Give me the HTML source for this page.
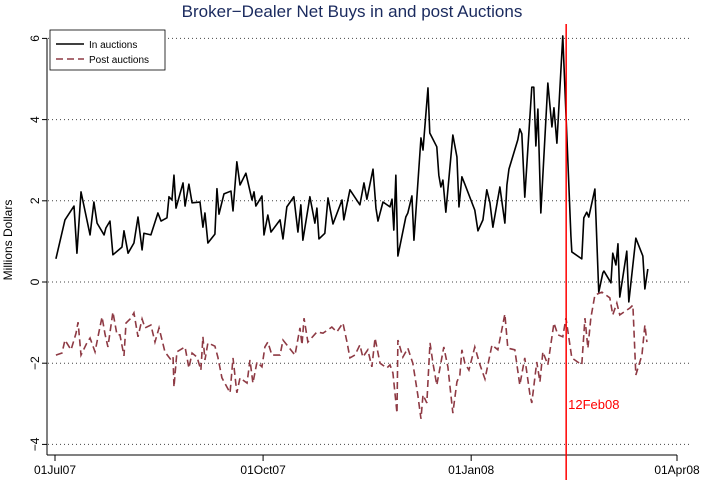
<!DOCTYPE html>
<html><head><meta charset="utf-8"><style>
body{margin:0;background:#fff;width:704px;height:480px;overflow:hidden}
text{font-family:"Liberation Sans",sans-serif}
</style></head><body>
<svg id="chart" width="704" height="480" xmlns="http://www.w3.org/2000/svg">
<rect width="704" height="480" fill="#fff"/>
<text x="352" y="17" text-anchor="middle" font-size="17" fill="#1a2a5e">Broker−Dealer Net Buys in and post Auctions</text>
<g id="grid"></g>
<g id="axes"></g>
<g id="series"></g>
<g>
<rect x="50" y="30" width="115" height="40" fill="#fff" stroke="#000" stroke-width="0.8"/>
<line x1="56" y1="44" x2="84" y2="44" stroke="#000" stroke-width="1.5"/>
<text x="89" y="48" font-size="10">In auctions</text>
<line x1="56" y1="59" x2="84" y2="59" stroke="#8e3a44" stroke-width="1.5" stroke-dasharray="7,4"/>
<text x="89" y="63" font-size="10">Post auctions</text>
</g>
</svg>
<script>
const inDays=[0.4,4.4,8.4,9.7,11.5,15.5,17.2,18.6,21.7,22.5,24.3,25.6,29.6,30.5,32.3,34.9,36.7,38.5,39.3,42.4,45.5,46.9,49.5,50.4,51.7,52.6,53.5,56.6,57.5,59.2,60.6,64.1,65.4,66.3,67.6,70.7,71.6,72.5,74.7,77.8,78.7,80.4,81.8,84.4,87.1,88,88.8,91.5,92.4,94.1,95.5,99.5,100.8,102.5,105.6,107.4,108.7,109.6,112.7,114.9,115.8,116.7,119.3,120.7,122.9,126.9,127.7,130.4,134.8,136.6,137.9,140.6,141.9,142.8,145,148.1,149,149.8,150.7,151.6,155.1,156,157.8,158.7,161.8,162.7,164.9,165.7,168.8,169.7,170.6,171.5,172.8,175.9,177.7,178.6,179.9,181.2,185.6,187,189.2,190.9,192.3,193.6,196.7,198.9,199.8,200.7,204.6,205.5,206.4,207.7,210.8,211.7,212.6,213.5,214.8,217.9,219.7,220.6,221.9,224.5,228.1,228.5,232.9,233.8,235.1,236,238.7,240.4,242.2,242.7,245.8,246.6,248,248.9,249.7,252.8,253.7,256.8,259.9,260.8,262.1];
const inVals=[0.57,1.53,1.87,0.71,2.22,1.16,1.97,1.45,1.16,1.33,1.5,0.67,0.86,1.26,0.71,0.96,1.6,0.79,1.2,1.16,1.7,1.5,1.58,2.1,2.02,2.63,1.82,2.44,1.87,2.41,1.95,1.97,1.35,1.7,0.96,1.18,2.3,1.67,2.17,2.24,1.75,2.96,2.39,2.68,2.02,2.22,1.87,2.12,1.16,1.65,1.23,1.53,1.06,1.85,2.1,1.23,1.9,1.03,2.1,1.45,1.82,1.06,1.2,2.07,1.43,2.02,1.53,2.27,1.9,2.44,2.04,2.78,1.82,1.5,1.97,1.85,2.04,1.28,2.63,0.64,1.6,1.7,2.12,1.03,3.55,3.25,4.78,3.67,3.33,2.63,2.34,2.51,1.72,3.62,3.08,1.85,2.59,2.41,1.77,1.26,1.53,2.27,1.95,1.35,2.34,1.45,2.39,2.78,3.5,3.77,3.65,2.09,4.8,4.8,3.35,4.26,1.7,4.9,3.82,4.29,3.42,6.06,1.13,0.74,0.57,1.58,1.72,1.6,2.29,-0.25,0.22,0.27,-0.02,0.71,0.42,0.94,-0.37,0.76,-0.49,1.08,0.64,-0.17,0.32];
const postDays=[0.4,3.1,4.4,7.1,9.3,10.2,11.5,14.1,15.5,17.7,19,20.8,22.1,23.4,25.6,27.4,28.7,30.5,31.4,33.6,34.9,36.7,38.5,39.8,42.4,44.2,46,48.6,51.3,52.2,52.6,53.9,57.5,59.2,60.6,62.8,64.5,65.4,66.3,67.6,70.7,72,73.8,77.4,78.7,80.4,81.8,84.9,86.2,87.5,89.3,91.5,92.8,94.1,95.9,99.5,100.8,106.1,108.3,109.2,110.1,111.8,115.8,118.5,122.4,124.6,127.3,129.1,130.4,132.6,134.8,136.1,138.3,140.1,141.5,143.7,146.7,148.1,149.4,151.2,151.6,153.8,156,158.2,160.4,161.8,162.7,164.4,165.8,167.1,168.8,171.9,173.7,175.9,177.7,179,179.9,181.2,183,185.6,187.9,190.1,193.2,195.8,198.9,200.2,203.3,205.5,207.7,210,210.8,213,214.4,215.7,217.9,220.6,222.3,224.5,225.9,228.5,232.9,234.3,235.6,236.9,238.7,241.8,245.3,246.6,248.4,249.7,254.2,255.5,256.8,259.5,260.8,261.7];
const postVals=[-1.8,-1.75,-1.43,-1.67,-1.26,-0.99,-1.8,-1.5,-1.38,-1.72,-1.35,-0.86,-1.28,-1.6,-0.74,-1.3,-1.3,-1.82,-1.01,-0.89,-0.76,-1.35,-0.91,-1.13,-1.06,-1.48,-1.13,-1.72,-1.92,-1.85,-2.59,-1.72,-1.6,-2.12,-1.75,-1.85,-2.17,-1.35,-1.92,-1.5,-1.58,-1.85,-2.36,-2.73,-1.87,-2.73,-2.36,-2.49,-1.92,-2.49,-1.97,-2.09,-1.6,-1.48,-1.8,-1.8,-1.43,-1.8,-1.13,-1.55,-0.89,-1.48,-1.23,-1.26,-1.11,-1.23,-1.01,-1.48,-1.87,-1.8,-1.55,-1.85,-1.67,-2.09,-1.38,-2.0,-2.12,-2.04,-2.24,-3.23,-1.43,-1.85,-1.63,-2.0,-2.78,-3.37,-2.78,-2.98,-1.5,-2.0,-2.54,-1.6,-2.09,-3.23,-2.46,-2.29,-1.67,-2.0,-2.17,-1.6,-2.04,-2.39,-1.55,-1.67,-0.79,-1.63,-1.67,-2.54,-1.87,-2.78,-2.98,-1.97,-2.46,-1.72,-2.04,-1.01,-1.3,-1.35,-0.89,-1.87,-2.04,-0.89,-1.63,-0.89,-0.32,-0.25,-0.39,-0.81,-0.52,-0.81,-0.64,-0.57,-2.29,-1.8,-1.06,-1.48];
const yTicks=[-4,-2,0,2,4,6];
const yTickLabels=["−4","−2","0","2","4","6"];
const xTickDays=[0,92,184,275];
const xTickLabels=["01Jul07","01Oct07","01Jan08","01Apr08"];
const eventDay=226;
const eventLabel="12Feb08";

const NS="http://www.w3.org/2000/svg";
const X=d=>55+d*(677-55)/275;
const Y=v=>282-v*40.6;
function mk(tag,attrs,parent){const e=document.createElementNS(NS,tag);for(const k in attrs)e.setAttribute(k,attrs[k]);parent.appendChild(e);return e;}
const grid=document.getElementById('grid'),axes=document.getElementById('axes'),series=document.getElementById('series');
yTicks.forEach((t,i)=>{
  const g=mk('line',{x1:48,x2:690,y1:Y(t),y2:Y(t),stroke:'#444','stroke-width':1,'stroke-dasharray':'1,3'},grid);
  
  
  mk('line',{x1:42,x2:47,y1:Y(t),y2:Y(t),stroke:'#000'},axes);
  const tx=mk('text',{x:0,y:0,'font-size':12,'text-anchor':'middle',transform:`translate(39,${Y(t)}) rotate(-90)`},axes);
  tx.textContent=yTickLabels[i];
  
  
});
mk('line',{x1:47,x2:47,y1:Y(6),y2:455,stroke:'#000'},axes);
mk('line',{x1:47,x2:677,y1:455,y2:455,stroke:'#000'},axes);
xTickDays.forEach((d,i)=>{
  mk('line',{x1:X(d),x2:X(d),y1:455,y2:461,stroke:'#000'},axes);
  const tx=mk('text',{x:X(d),y:474,'font-size':12,'text-anchor':'middle'},axes);
  tx.textContent=xTickLabels[i];
  
  
});
const yt=mk('text',{x:0,y:0,'font-size':12,'text-anchor':'middle',transform:'translate(12,240) rotate(-90)'},axes);
yt.textContent='Millions Dollars';


const p1=mk('polyline',{points:inDays.map((d,i)=>X(d)+','+Y(inVals[i])).join(' '),fill:'none',stroke:'#000','stroke-width':1.6,'stroke-linejoin':'round'},series);


const p2=mk('polyline',{points:postDays.map((d,i)=>X(d)+','+Y(postVals[i])).join(' '),fill:'none',stroke:'#8e3a44','stroke-width':1.6,'stroke-dasharray':'7,4'},series);


const ev=mk('line',{x1:X(eventDay),x2:X(eventDay),y1:24,y2:480,stroke:'#f00','stroke-width':1.5},series);


const el=mk('text',{x:X(eventDay)+2,y:409,'font-size':13,fill:'#f00'},series);
el.textContent=eventLabel;


</script>
</body></html>
